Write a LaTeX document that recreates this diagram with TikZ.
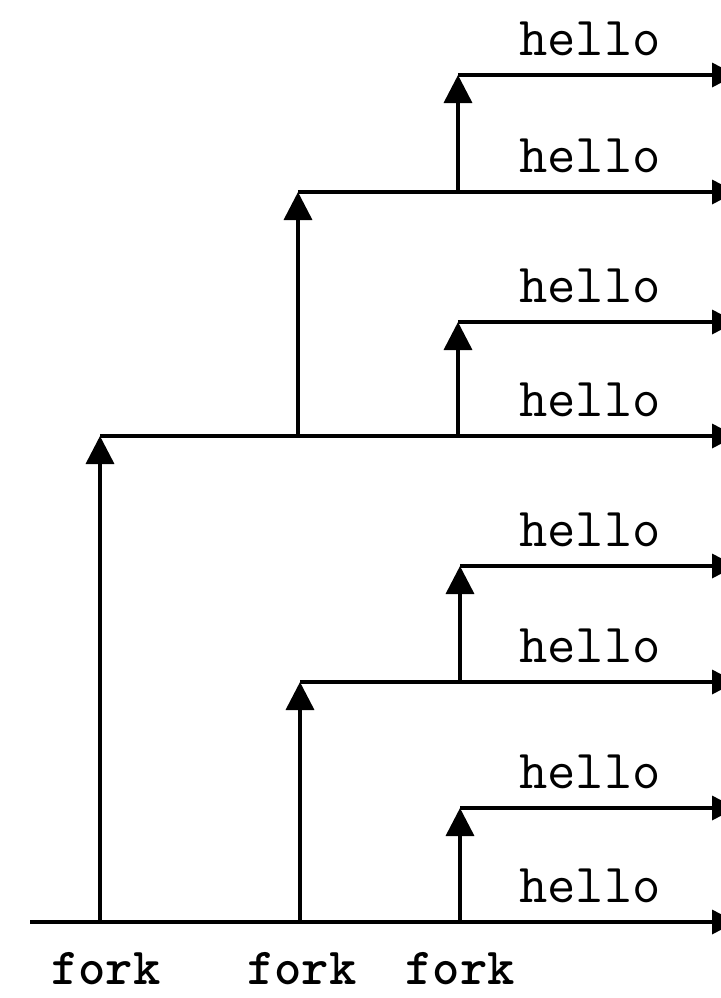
\documentclass[tikz,border=0pt]{standalone}
\usepackage{fontspec}
\usetikzlibrary{arrows.meta,positioning}
\tikzset{
  wire/.style={draw=black, line width=1.8pt},
  branch/.style={wire, -{Triangle[width=14pt,length=14pt]}},
  outlet/.style={wire, -{Triangle[width=12pt,length=12pt]}},
  msg/.style={font=\fontsize{27.5}{27.5}\selectfont\ttfamily, anchor=base, inner sep=0pt, yshift=10pt},
  forklbl/.style={font=\fontsize{26}{26}\selectfont\ttfamily\bfseries, anchor=base, inner sep=0pt}
}
\begin{document}
\begin{tikzpicture}[x=0.5pt,y=-0.5pt]
 \useasboundingbox (0,0) rectangle (720,998);
 % output lines, one per hello
 \foreach \i/\x/\y in {1/458/75, 2/298/192, 3/458/322, 4/100/436,
                       5/460/566, 6/300/682, 7/460/808, 8/30/922} {
   \coordinate (h\i) at (\x,\y);
   \coordinate (e\i) at (736,\y);
   \draw[outlet] (h\i) -- (e\i);
   \node[msg] (m\i) at (590,\y) {hello};
 }
 % fork points
 \coordinate (fa) at (100,922);
 \coordinate (fb) at (300,922);
 \coordinate (fc) at (460,922);
 \coordinate (fd) at (460,682);
 \coordinate (fe) at (298,436);
 \coordinate (ff) at (458,436);
 \coordinate (fg) at (458,192);
 \draw[branch] (fa) -- (h4);
 \draw[branch] (fb) -- (h6);
 \draw[branch] (fc) -- (h7);
 \draw[branch] (fd) -- (h5);
 \draw[branch] (fe) -- (h2);
 \draw[branch] (ff) -- (h3);
 \draw[branch] (fg) -- (h1);
 % labels under the base line
 \node[forklbl] (k1) at (106,984) {fork};
 \node[forklbl] (k2) at (302,984) {fork};
 \node[forklbl] (k3) at (460,984) {fork};
\end{tikzpicture}
\end{document}
